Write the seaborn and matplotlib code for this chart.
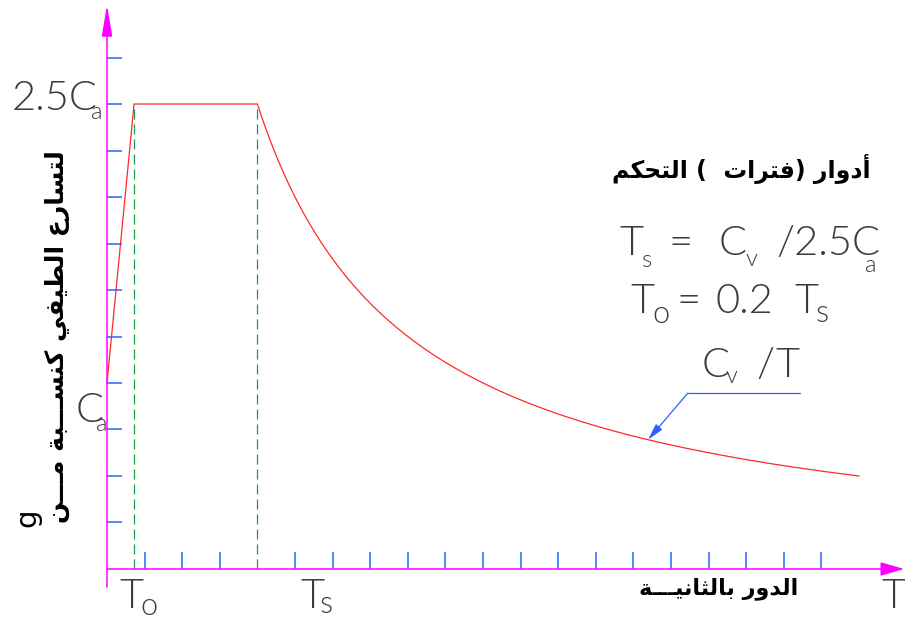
import numpy as np
import pandas as pd
import matplotlib
matplotlib.use("Agg")
import matplotlib.pyplot as plt
from matplotlib import font_manager as fm
import seaborn as sns

# ---- spectrum parameters (in grid units of the drawing) ----
Ca = 4.0            # spectral value at T = 0
plateau = 2.5 * Ca  # 2.5 Ca
T0 = 0.72           # start of plateau
Ts = 4.0            # end of plateau
Cv = plateau * Ts   # so that Cv / T meets the plateau at Ts
T_end = 20.0
x_ticks = [1, 2, 3, 5, 6, 7, 8, 9, 10, 11, 12, 13, 14, 15, 16, 17, 18, 19]
y_ticks = [1, 2, 3, 4, 5, 6, 7, 8, 9, 10, 11]

# ---- labels ----
ylabel_ar = "لتسارع الطيفي كنســـبة مـــن"
xlabel_ar = "الدور بالثانيـــة"
title_ar = "أدوار (فترات  ) التحكم"

# ---- minimal Arabic shaping (contextual forms + right-to-left order) ----
DUAL = {'ئ': 0xFE89, 'ب': 0xFE8F, 'ت': 0xFE95, 'ث': 0xFE99, 'ج': 0xFE9D,
        'ح': 0xFEA1, 'خ': 0xFEA5, 'س': 0xFEB1, 'ش': 0xFEB5, 'ص': 0xFEB9,
        'ض': 0xFEBD, 'ط': 0xFEC1, 'ظ': 0xFEC5, 'ع': 0xFEC9, 'غ': 0xFECD,
        'ف': 0xFED1, 'ق': 0xFED5, 'ك': 0xFED9, 'ل': 0xFEDD, 'م': 0xFEE1,
        'ن': 0xFEE5, 'ه': 0xFEE9, 'ي': 0xFEF1}
RIGHT = {'آ': 0xFE81, 'أ': 0xFE83, 'ؤ': 0xFE85, 'إ': 0xFE87, 'ا': 0xFE8D,
         'ة': 0xFE93, 'د': 0xFEA9, 'ذ': 0xFEAB, 'ر': 0xFEAD, 'ز': 0xFEAF,
         'و': 0xFEED, 'ى': 0xFEEF}
LAM_ALEF = {'آ': 0xFEF5, 'أ': 0xFEF7, 'إ': 0xFEF9, 'ا': 0xFEFB}
TATWEEL = '\u0640'
MIRROR = {'(': ')', ')': '('}


def _joins_next(c):
    return c in DUAL or c == TATWEEL


def _joins_prev(c):
    return c in DUAL or c in RIGHT or c == TATWEEL


def shape_ar(text):
    out = []
    i, n = 0, len(text)
    while i < n:
        c = text[i]
        prev = text[i - 1] if i > 0 else ''
        lp = bool(prev) and _joins_next(prev) and _joins_prev(c)
        if c == 'ل' and i + 1 < n and text[i + 1] in LAM_ALEF:
            out.append(chr(LAM_ALEF[text[i + 1]] + (1 if lp else 0)))
            i += 2
            continue
        nxt = text[i + 1] if i + 1 < n else ''
        ln = bool(nxt) and _joins_next(c) and _joins_prev(nxt)
        if c in DUAL:
            b = DUAL[c]
            code = b + 3 if (lp and ln) else b + 1 if lp else b + 2 if ln else b
            out.append(chr(code))
        elif c in RIGHT:
            out.append(chr(RIGHT[c] + (1 if lp else 0)))
        else:
            out.append(MIRROR.get(c, c))
        i += 1
    return ''.join(reversed(out))


# ---- styling ----
sns.set_theme(style="white")
installed = {f.name for f in fm.fontManager.ttflist}
CAD_FONT = 'Lato' if 'Lato' in installed else 'DejaVu Sans'
plt.rcParams['font.family'] = ['DejaVu Sans']

AXIS_C = '#ff00ff'
TICK_C = '#2f5fff'
CURVE_C = '#ff2a2a'
GUIDE_C = '#1e9a4e'
TEXT_C = '#3c3c3c'

W, H = 905, 624
fig = plt.figure(figsize=(W / 100, H / 100), dpi=100)
ax = fig.add_axes([0, 0, 1, 1])

# ---- spectrum curve ----
T_desc = np.linspace(Ts, T_end, 300)
curve = pd.DataFrame({
    'T': np.concatenate([[0.0, T0], T_desc]),
    'Sa': np.concatenate([[Ca, plateau], Cv / T_desc]),
})
sns.lineplot(data=curve, x='T', y='Sa', sort=False, estimator=None,
             color=CURVE_C, lw=0.9, ax=ax)
ax.set_xlim(-2.846, 21.223)
ax.set_ylim(-1.183, 12.237)
ax.axis('off')

# dashed guides at T0 and Ts
ax.vlines([T0, Ts], 0, plateau, colors=GUIDE_C, lw=0.9,
          linestyles=[(0, (8, 4))])

# tick marks
ax.vlines(x_ticks, 0, 0.37, colors=TICK_C, lw=1.1)
ax.hlines(y_ticks, 0, 0.40, colors=TICK_C, lw=1.1)

# axes with arrow heads
ax.annotate('', xy=(0, 12.13), xytext=(0, -0.39),
            arrowprops=dict(arrowstyle='-|>,head_length=1.9,head_width=0.32',
                            color=AXIS_C, lw=1.1, shrinkA=0, shrinkB=0,
                            mutation_scale=10))
ax.annotate('', xy=(21.2, 0), xytext=(0, 0),
            arrowprops=dict(arrowstyle='-|>,head_length=1.45,head_width=0.42',
                            color=AXIS_C, lw=1.1, shrinkA=0, shrinkB=0,
                            mutation_scale=10))

# leader pointing at the Cv/T branch
T_tip = 14.39
knee = (15.45, 3.785)
ax.plot([18.43, knee[0]], [knee[1], knee[1]], color=TICK_C, lw=0.9)
ax.annotate('', xy=(T_tip, Cv / T_tip), xytext=knee,
            arrowprops=dict(arrowstyle='-|>,head_length=1.0,head_width=0.25',
                            color=TICK_C, lw=0.9, shrinkA=0, shrinkB=0,
                            mutation_scale=10))


# ---- text helpers (pixel layout on the figure) ----
def put(x, y, s, size, **kw):
    kw.setdefault('color', TEXT_C)
    kw.setdefault('family', CAD_FONT)
    kw.setdefault('fontweight', 300)
    kw.setdefault('ha', 'left')
    kw.setdefault('va', 'baseline')
    fig.text(x / W, 1 - y / H, s, fontsize=size, **kw)


BIG = 30
SUB = 17
SUB2 = 22

# value labels on the vertical axis
put(12, 110, '2.5C', BIG)
put(91, 119, 'a', SUB)
put(76, 422, 'C', BIG)
put(96, 431, 'a', SUB)

# period labels on the horizontal axis
put(119, 608, 'T', BIG)
put(140, 615, 'o', SUB2)
put(300, 608, 'T', BIG)
put(320, 613, 's', SUB2)
put(881, 608, 'T', BIG)

# formulas
put(619, 255, 'T', BIG)
put(642, 267, 's', SUB)
put(668, 255, '=', BIG)
put(719, 255, 'C', BIG)
put(746, 266, 'v', SUB)
put(776, 255, '/2.5C', BIG)
put(865, 272, 'a', SUB)

put(630, 313, 'T', BIG)
put(652, 323, 'o', SUB2)
put(676, 313, '=', BIG)
put(715, 313, '0.2', BIG)
put(794, 313, 'T', BIG)
put(816, 322, 's', SUB2)

put(702, 377, 'C', BIG)
put(726, 383, 'v', SUB)
put(756, 377, '/', BIG)
put(775, 377, 'T', BIG)

# Arabic captions
fig.text(741 / W, 1 - 169 / H, shape_ar(title_ar), fontsize=17,
         fontweight='bold', color='black', ha='center', va='center',
         family=['DejaVu Sans'])
fig.text(719 / W, 1 - 589 / H, shape_ar(xlabel_ar), fontsize=16,
         fontweight='bold', color='black', ha='center', va='center',
         family=['DejaVu Sans'])
fig.text(57 / W, 1 - 337 / H, shape_ar(ylabel_ar), fontsize=18,
         fontweight='bold', color='black', ha='center', va='center',
         rotation=90, family=['DejaVu Sans'])
fig.text(27 / W, 1 - 518 / H, 'g', fontsize=21, color='black',
         ha='center', va='center', rotation=90, family=['DejaVu Sans'])

fig.savefig('out.png', dpi=100, facecolor='white')
